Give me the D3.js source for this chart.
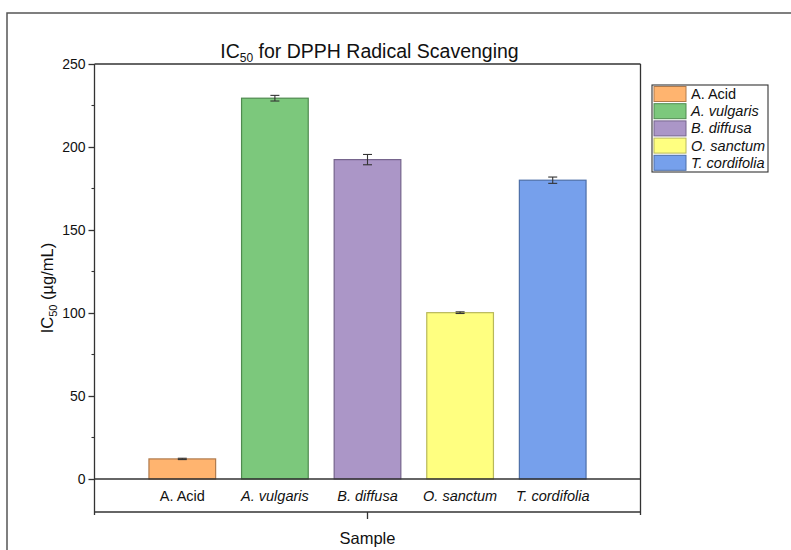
<!DOCTYPE html>
<html>
<head>
<meta charset="utf-8">
<script src="https://cdn.jsdelivr.net/npm/d3@7"></script>
<style>
  html, body { margin: 0; padding: 0; background: #fff; }
  svg { display: block; font-family: "Liberation Sans", Arial, sans-serif; }
</style>
</head>
<body>
<svg id="chart" width="791" height="550"></svg>
<script>
// IC50 values (µg/mL) with standard-deviation error bars
const samples = ["A. Acid", "A. vulgaris", "B. diffusa", "O. sanctum", "T. cordifolia"];
const italicNames = [false, true, true, true, true];
const ic50 = [12.1, 229.4, 192.4, 100.2, 180.0];
const errors = [0.4, 1.7, 3.1, 0.5, 1.9];
const fills = ["#FFB46F", "#7CC87C", "#AB96C7", "#FFFF80", "#76A0EC"];
const strokes = ["#B07A4C", "#4F8A4F", "#75648C", "#B8B85A", "#4D6FA8"];
const yTicks = [0, 50, 100, 150, 200, 250];
const yMinorTicks = [25, 75, 125, 175, 225];

const svg = d3.select("#chart");

// page frame
svg.append("rect")
  .attr("x", 7).attr("y", 13).attr("width", 820).attr("height", 600)
  .attr("fill", "none").attr("stroke", "#555").attr("stroke-width", 1.5);

const L = 94.5, R = 640.5, T = 64, B = 512;

const y = d3.scaleLinear().domain([0, 250]).range([479, T]);
const x = d3.scaleBand().domain(samples).range([L, R])
  .paddingInner(0.28).paddingOuter(0.588);

const axisColor = "#333";

// bars
svg.append("g").selectAll("rect")
  .data(samples)
  .join("rect")
  .attr("x", d => x(d))
  .attr("y", (d, i) => y(ic50[i]))
  .attr("width", x.bandwidth())
  .attr("height", (d, i) => y(0) - y(ic50[i]))
  .attr("fill", (d, i) => fills[i])
  .attr("stroke", (d, i) => strokes[i])
  .attr("stroke-width", 1.2);

// error bars
const eb = svg.append("g").attr("stroke", "#333").attr("stroke-width", 1.1);
samples.forEach((d, i) => {
  const cx = x(d) + x.bandwidth() / 2;
  const hi = y(ic50[i] + errors[i]), lo = y(ic50[i] - errors[i]);
  eb.append("line").attr("x1", cx).attr("x2", cx).attr("y1", hi).attr("y2", lo);
  eb.append("line").attr("x1", cx - 4.5).attr("x2", cx + 4.5).attr("y1", hi).attr("y2", hi);
  eb.append("line").attr("x1", cx - 4.5).attr("x2", cx + 4.5).attr("y1", lo).attr("y2", lo);
});

// plot frame: top and right edges, zero line, bottom line
const frame = svg.append("g").attr("stroke", axisColor).attr("stroke-width", 1.3).attr("fill", "none");
frame.append("line").attr("x1", L).attr("x2", R).attr("y1", T).attr("y2", T);
frame.append("line").attr("x1", R).attr("x2", R).attr("y1", T).attr("y2", B + 3);
frame.append("line").attr("x1", L).attr("x2", R).attr("y1", y(0)).attr("y2", y(0));
frame.append("line").attr("x1", L).attr("x2", R).attr("y1", B).attr("y2", B);
frame.append("line").attr("x1", (L + R) / 2).attr("x2", (L + R) / 2).attr("y1", B).attr("y2", B + 7);

// y axis
const yAxis = d3.axisLeft(y).tickValues(yTicks).tickSize(6).tickPadding(3).tickSizeOuter(0);
const gy = svg.append("g").attr("transform", `translate(${L},0)`).call(yAxis);
gy.select(".domain").remove();
gy.selectAll(".tick line").attr("stroke", axisColor).attr("stroke-width", 1.3);
gy.selectAll(".tick text").attr("font-size", 14).attr("fill", "#111")
  .attr("font-family", "Liberation Sans, Arial, sans-serif");
gy.append("line").attr("x1", 0).attr("x2", 0).attr("y1", T).attr("y2", B + 3)
  .attr("stroke", axisColor).attr("stroke-width", 1.3);
gy.selectAll(".minor").data(yMinorTicks).join("line")
  .attr("class", "minor")
  .attr("x1", -3).attr("x2", 0)
  .attr("y1", d => y(d)).attr("y2", d => y(d))
  .attr("stroke", axisColor).attr("stroke-width", 1.1);

// category labels
const xAxis = d3.axisBottom(x).tickSize(0).tickPadding(12);
const gx = svg.append("g").attr("transform", `translate(0,${y(0)})`).call(xAxis);
gx.select(".domain").remove();
gx.selectAll(".tick text")
  .attr("font-size", 14.5).attr("fill", "#111")
  .attr("font-family", "Liberation Sans, Arial, sans-serif")
  .attr("font-style", (d, i) => italicNames[i] ? "italic" : "normal");

// title
const title = svg.append("text").attr("x", (L + R) / 2 + 2).attr("y", 58)
  .attr("text-anchor", "middle").attr("font-size", 19.5).attr("fill", "#111");
title.append("tspan").text("IC");
title.append("tspan").attr("font-size", 12).attr("dy", 4).text("50");
title.append("tspan").attr("dy", -4).text(" for DPPH Radical Scavenging");

// y axis title
const yt = svg.append("text")
  .attr("transform", `translate(53,${(T + B) / 2}) rotate(-90)`)
  .attr("text-anchor", "middle").attr("font-size", 16.5).attr("fill", "#111");
yt.append("tspan").text("IC");
yt.append("tspan").attr("font-size", 11).attr("dy", 4).text("50");
yt.append("tspan").attr("dy", -4).text(" (µg/mL)");

// x axis title
svg.append("text").attr("x", (L + R) / 2).attr("y", 544)
  .attr("text-anchor", "middle").attr("font-size", 16.5).attr("fill", "#111")
  .text("Sample");

// legend
const lg = svg.append("g").attr("transform", "translate(652,85)");
lg.append("rect").attr("x", 0).attr("y", 0).attr("width", 116).attr("height", 87)
  .attr("fill", "#fff").attr("stroke", "#333").attr("stroke-width", 1.1);
const rowH = 17.2;
const items = lg.selectAll("g.item").data(samples).join("g")
  .attr("class", "item")
  .attr("transform", (d, i) => `translate(2,${1.5 + i * rowH})`);
items.append("rect").attr("width", 32).attr("height", 15)
  .attr("fill", (d, i) => fills[i]).attr("stroke", (d, i) => strokes[i]).attr("stroke-width", 1);
items.append("text").attr("x", 37).attr("y", 12.5)
  .attr("font-size", 14.5).attr("fill", "#111")
  .attr("font-style", (d, i) => italicNames[i] ? "italic" : "normal")
  .text(d => d);
</script>
</body>
</html>
